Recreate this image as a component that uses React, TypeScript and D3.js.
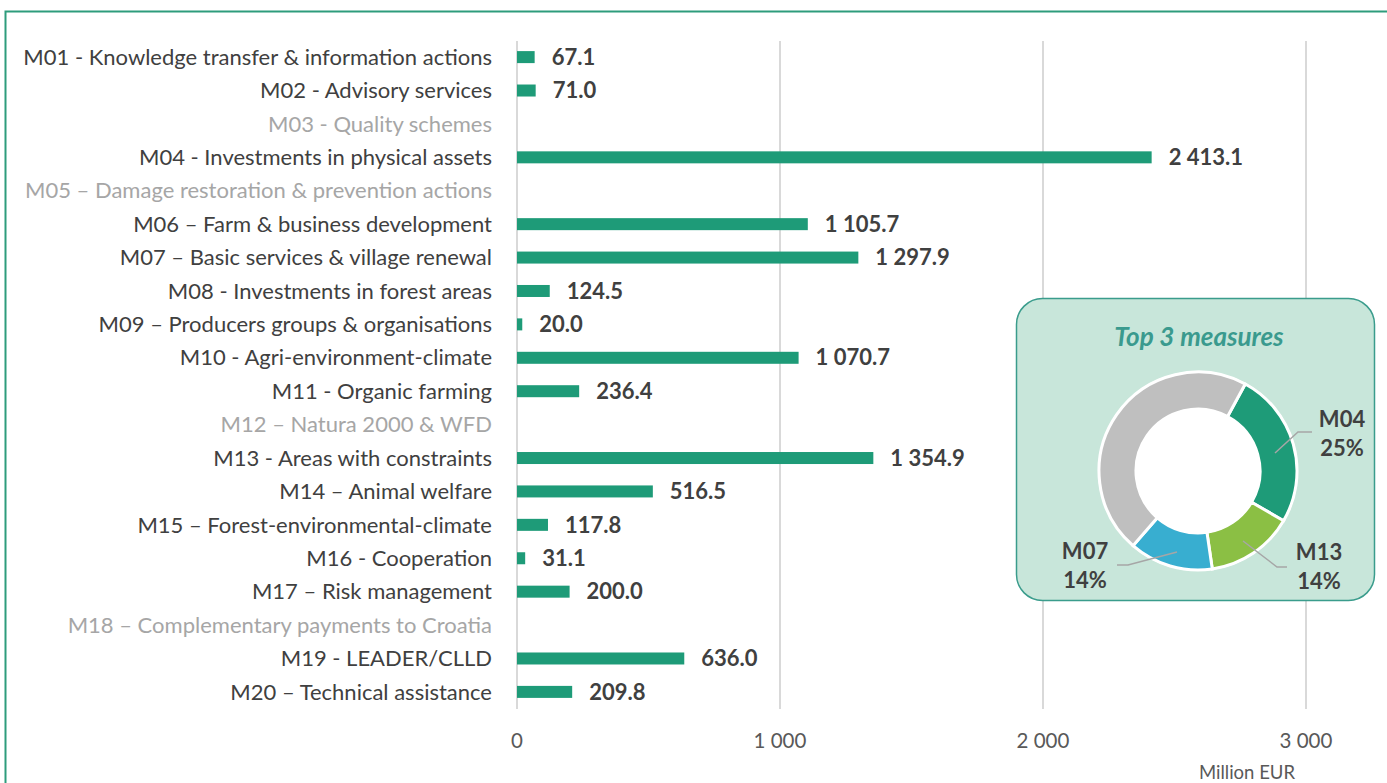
import React from "react";
import * as d3 from "d3";

const categories = [
  "M01 - Knowledge transfer & information actions",
  "M02 - Advisory services",
  "M03 - Quality schemes",
  "M04 - Investments in physical assets",
  "M05 – Damage restoration & prevention actions",
  "M06 – Farm & business development",
  "M07 – Basic services & village renewal",
  "M08 - Investments in forest areas",
  "M09 – Producers groups  & organisations",
  "M10 - Agri-environment-climate",
  "M11 - Organic farming",
  "M12 – Natura 2000 & WFD",
  "M13 - Areas with constraints",
  "M14 – Animal welfare",
  "M15 – Forest-environmental-climate",
  "M16 - Cooperation",
  "M17 – Risk management",
  "M18 – Complementary payments to Croatia",
  "M19 - LEADER/CLLD",
  "M20 – Technical assistance",
];
const values: (number | null)[] = [
  67.1, 71.0, null, 2413.1, null, 1105.7, 1297.9, 124.5, 20.0, 1070.7, 236.4, null,
  1354.9, 516.5, 117.8, 31.1, 200.0, null, 636.0, 209.8,
];
const xTicks = [0, 1000, 2000, 3000];
const topCodes = ["M04", "M13", "M07"];
const donutLabels = ["M04", "M13", "M07", "Other"];

const FONT = "Lato, 'Open Sans', sans-serif";
const fmt = (v: number) => {
  const s = v.toFixed(1);
  const [i, d] = s.split(".");
  const ii = i.replace(/\B(?=(\d{3})+(?!\d))/g, " ");
  return ii + "." + d;
};
const fmtTick = (v: number) => String(v).replace(/\B(?=(\d{3})+(?!\d))/g, " ");

export default function App() {
  const W = 1387, H = 783;
  const x = d3.scaleLinear().domain([0, 3000]).range([517, 1306]);
  const y = d3.scaleBand<string>().domain(categories).range([40.4, 708.6]).paddingInner(0.66).paddingOuter(0.33);
  const total = d3.sum(values.map((v) => v ?? 0));
  const topVals = topCodes.map((c) => {
    const idx = categories.findIndex((n) => n.startsWith(c));
    return values[idx] as number;
  });
  const donutData = [...topVals, total - d3.sum(topVals)];
  const start = (28.5 * Math.PI) / 180;
  const pie = d3.pie<number>().sort(null).startAngle(start).endAngle(start + 2 * Math.PI)(donutData);
  const cx = 1198, cy = 471;
  const arc = d3.arc<d3.PieArcDatum<number>>().innerRadius(62).outerRadius(99);
  const donutColors = ["#1e9b78", "#8bbf44", "#38aed0", "#bfbfbf"];
  const pct = (v: number) => Math.round((v / total) * 100) + "%";

  const labelPos = [
    { tx: 144, ty: -52, anchor: "middle", line: [[77, -18], [100, -39], [114, -39]] },
    { tx: 121, ty: 81, anchor: "middle", line: [[45, 70], [79, 96], [89, 96]] },
    { tx: -113, ty: 80, anchor: "middle", line: [[-21, 81], [-70, 94], [-81, 94]] },
  ];

  return (
    <svg width={W} height={H} style={{ display: "block", position: "absolute", left: 0, top: 0 }} fontFamily={FONT}>
      <rect x={0} y={0} width={W} height={H} fill="#ffffff" />
      <path d={`M5.5,${H + 5} L5.5,11.5 L${W + 5},11.5`} fill="none" stroke="#2e9c7c" strokeWidth={2} />
      {xTicks.map((t) => (
        <line key={t} x1={x(t)} x2={x(t)} y1={41} y2={709} stroke="#d9d9d9" strokeWidth={2} />
      ))}
      {categories.map((c, i) => {
        const v = values[i];
        const yc = (y(c) as number) + y.bandwidth() / 2;
        const grey = v === null;
        return (
          <g key={c}>
            <text x={492} y={yc} dy="0.35em" textAnchor="end" fontSize={22} fill={grey ? "#a6a6a6" : "#404040"}>
              {c}
            </text>
            {v !== null && (
              <>
                <rect x={x(0)} y={yc - 6} width={x(v) - x(0)} height={12} fill="#1e9b78" />
                <text x={x(v) + 17} y={yc} dy="0.35em" fontSize={22} fontWeight="bold" fill="#404040">
                  {fmt(v)}
                </text>
              </>
            )}
          </g>
        );
      })}
      {xTicks.map((t) => (
        <text key={t} x={x(t)} y={741} dy="0.35em" textAnchor="middle" fontSize={20.5} fill="#595959">
          {fmtTick(t)}
        </text>
      ))}
      <text x={1247} y={773} dy="0.35em" textAnchor="middle" fontSize={18.5} fill="#595959">
        Million EUR
      </text>
      <rect x={1016.5} y={298.5} width={358} height={302} rx={26} fill="#c8e6da" stroke="#3a9c8c" strokeWidth={1.5} />
      <text x={1199} y={337} dy="0.35em" textAnchor="middle" fontSize={26} fontWeight="bold" fontStyle="italic" fill="#3a9a8e">
        Top 3 measures
      </text>
      <g transform={`translate(${cx},${cy})`}>
        <circle r={100} fill="#ffffff" />
        {pie.map((p, i) => (
          <path key={donutLabels[i]} d={arc(p) as string} fill={donutColors[i]} stroke="#ffffff" strokeWidth={3} />
        ))}
        <circle r={61} fill="none" stroke="#ffffff" strokeWidth={3} />
        {topCodes.map((c, i) => {
          const lp = labelPos[i];
          return (
            <g key={c}>
              <polyline points={lp.line.map((p) => p.join(",")).join(" ")} fill="none" stroke="#a6a6a6" strokeWidth={1.5} />
              <text x={lp.tx} y={lp.ty} dy="0.35em" textAnchor={lp.anchor} fontSize={22} fontWeight="bold" fill="#404040">
                {c}
              </text>
              <text x={lp.tx} y={lp.ty + 29} dy="0.35em" textAnchor={lp.anchor} fontSize={22} fontWeight="bold" fill="#404040">
                {pct(topVals[i])}
              </text>
            </g>
          );
        })}
      </g>
    </svg>
  );
}
